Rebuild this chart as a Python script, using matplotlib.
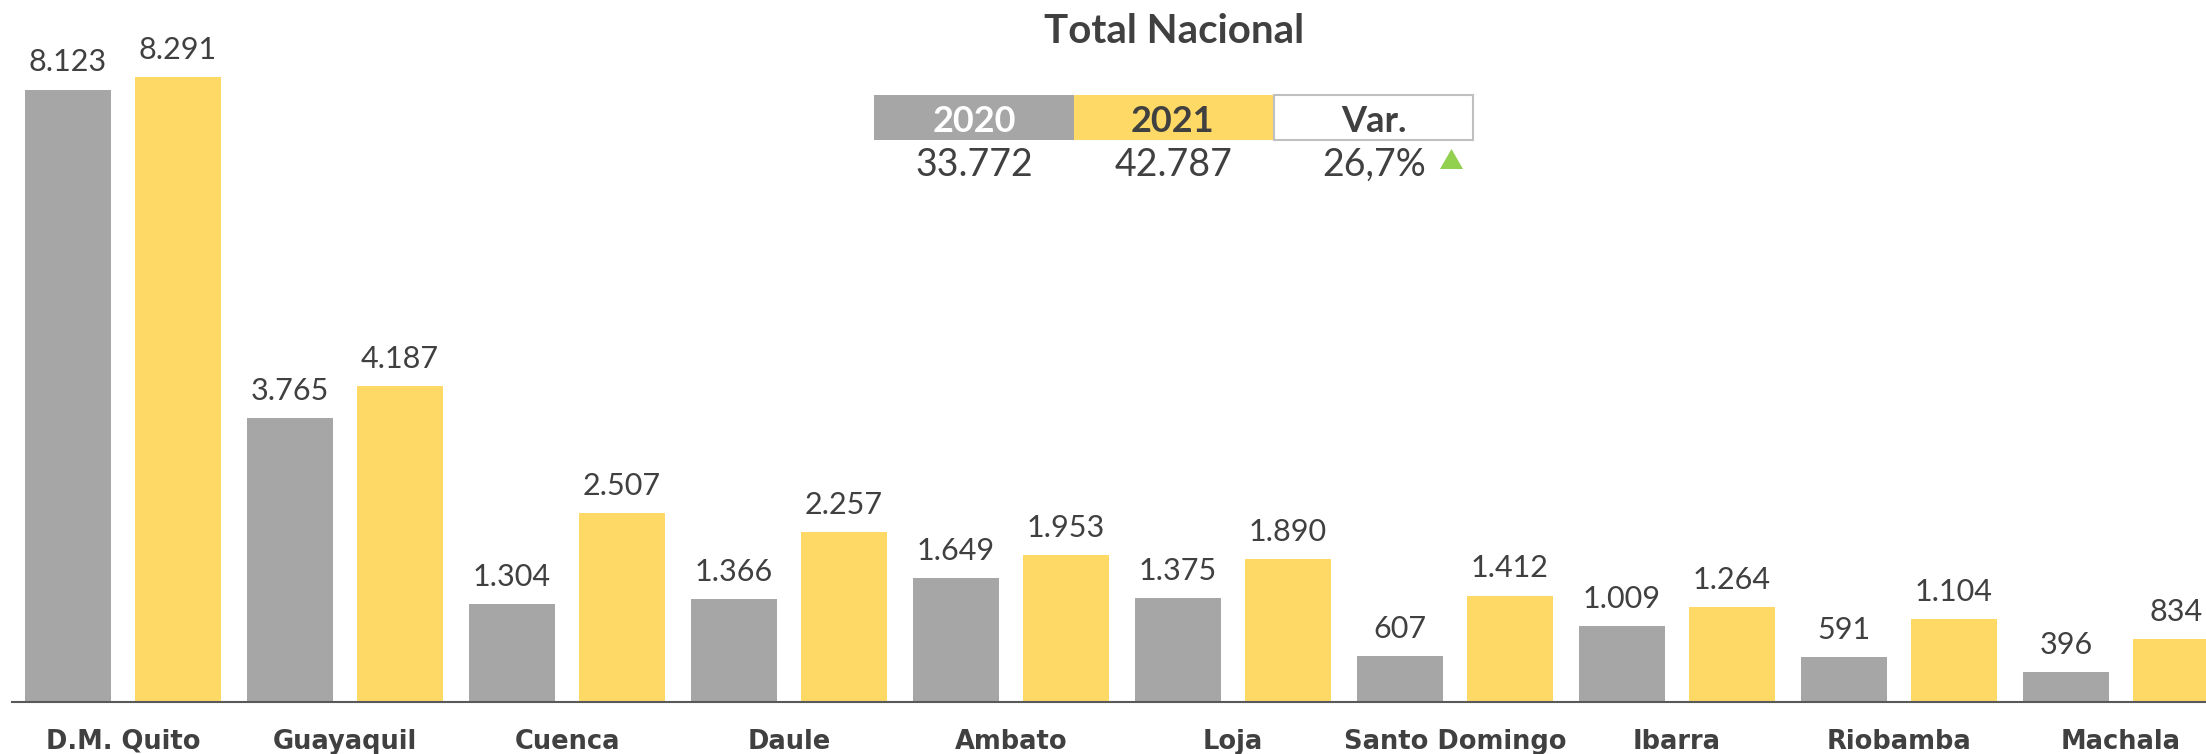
import matplotlib.pyplot as plt
from matplotlib.patches import Rectangle, Polygon
from matplotlib.transforms import blended_transform_factory

# data
cities = ["D.M. Quito", "Guayaquil", "Cuenca", "Daule", "Ambato", "Loja",
          "Santo Domingo", "Ibarra", "Riobamba", "Machala"]
v2020 = [8123, 3765, 1304, 1366, 1649, 1375, 607, 1009, 591, 396]
v2021 = [8291, 4187, 2507, 2257, 1953, 1890, 1412, 1264, 1104, 834]
total_2020 = 33772
total_2021 = 42787
var_pct = 26.7

GRAY = "#A6A6A6"
YELLOW = "#FFD966"
TXT = "#404040"
W, H = 2206, 754

plt.rcParams['font.family'] = ['DejaVu Sans']
NUM_FONT = ['Lato', 'DejaVu Sans']


def fmt(v):
    return f"{v:,}".replace(",", ".")


def fx(px):
    return px / W


def fy(py):
    return 1 - py / H


fig = plt.figure(figsize=(W / 100, H / 100), dpi=100)
ax = fig.add_axes([fx(12), fy(702), fx(W - 12), 702 / H])

x = list(range(len(cities)))
off = 0.2477
bw = 0.387
b1 = ax.bar([i - off for i in x], v2020, width=bw, color=GRAY)
b2 = ax.bar([i + off for i in x], v2021, width=bw, color=YELLOW)

for bars, vals in ((b1, v2020), (b2, v2021)):
    for rect, v in zip(bars, vals):
        ax.annotate(fmt(v), (rect.get_x() + rect.get_width() / 2, v),
                    xytext=(0, 13), textcoords="offset points",
                    ha="center", va="baseline", fontsize=22, color=TXT,
                    family=NUM_FONT)

ax.set_xlim(-0.5, -0.5 + (W - 12) / 222)
ax.set_ylim(0, 702 / 0.0754)
for s in ["top", "left", "right"]:
    ax.spines[s].set_visible(False)
ax.spines["bottom"].set_color("#595959")
ax.spines["bottom"].set_linewidth(1.5)
ax.set_xticks([])
ax.set_yticks([])

tr = blended_transform_factory(ax.transData, fig.transFigure)
for i, c in enumerate(cities):
    ax.text(i, fy(749), c, transform=tr, ha="center", va="baseline",
            fontsize=18.5, fontweight="bold", color=TXT, clip_on=False)

# title and summary table
fig.text(fx(1174), fy(43), "Total Nacional", ha="center", va="baseline",
         fontsize=29, fontweight="bold", color=TXT, family=NUM_FONT)

fig.add_artist(Rectangle((fx(874), fy(140)), fx(200), 45 / H,
                         transform=fig.transFigure, color=GRAY, lw=0))
fig.add_artist(Rectangle((fx(1074), fy(140)), fx(199), 45 / H,
                         transform=fig.transFigure, color=YELLOW, lw=0))
fig.add_artist(Rectangle((fx(1274), fy(139.5)), fx(199), 44 / H,
                         transform=fig.transFigure, facecolor="white",
                         edgecolor="#BFBFBF", lw=1.5))

fig.text(fx(974), fy(132), "2020", ha="center", va="baseline",
         fontsize=26, fontweight="bold", color="white", family=NUM_FONT)
fig.text(fx(1172), fy(132), "2021", ha="center", va="baseline",
         fontsize=26, fontweight="bold", color=TXT, family=NUM_FONT)
fig.text(fx(1374), fy(132), "Var.", ha="center", va="baseline",
         fontsize=26, fontweight="bold", color=TXT, family=NUM_FONT)

fig.text(fx(974), fy(176), fmt(total_2020), ha="center", va="baseline",
         fontsize=27, color=TXT, family=NUM_FONT)
fig.text(fx(1174), fy(176), fmt(total_2021), ha="center", va="baseline",
         fontsize=27, color=TXT, family=NUM_FONT)
fig.text(fx(1374), fy(176), f"{var_pct:.1f}%".replace(".", ","),
         ha="center", va="baseline", fontsize=27, color=TXT, family=NUM_FONT)
fig.add_artist(Polygon([(fx(1440), fy(169)), (fx(1463), fy(169)),
                        (fx(1451.5), fy(149))], closed=True,
                       transform=fig.transFigure, color="#92D050", lw=0))

fig.savefig("out.png", dpi=100)
